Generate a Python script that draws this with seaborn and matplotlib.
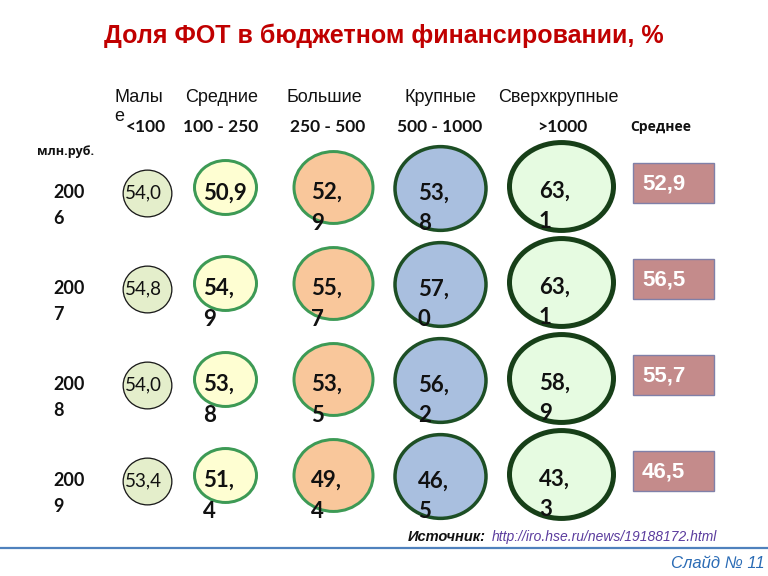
import matplotlib
matplotlib.use("Agg")
import matplotlib.pyplot as plt
from matplotlib.path import Path
from matplotlib.transforms import Affine2D
import seaborn as sns

# === данные ===
years = ["2006", "2007", "2008", "2009"]
groups = ["Малы\nе", "Средние", "Большие", "Крупные", "Сверхкрупные"]
ranges = ["<100", "100 - 250", "250 - 500", "500 - 1000", ">1000"]
small = [54.0, 54.8, 54.0, 53.4]
medium = [50.9, 54.9, 53.8, 51.4]
big = [52.9, 55.7, 53.5, 49.4]
large = [53.8, 57.0, 56.2, 46.5]
huge = [63.1, 63.1, 58.9, 43.3]
average = [52.9, 56.5, 55.7, 46.5]
columns = [small, medium, big, large, huge]

# === оформление (координаты слайда в пикселях) ===
col_x = [147, 225, 333, 440, 561]
col_dy = [6, 0, 0, 1, -1]
row_y0, row_step = 187, 96
avg_x = 673
head_x = [114, 185, 287, 404, 498]
range_x = [146, 221, 328, 440, 562]
face = ["#e4eecb", "#fefed2", "#f9c79b", "#a9bfdf", "#e6fbe1"]
edge = ["#1a1a1a", "#3d9a55", "#3d9a55", "#1d4f25", "#173f18"]
lw_px = [1.3, 3.0, 3.0, 3.5, 5.0]
width_px = [48.7, 62, 79, 91, 104]
aspect = [0.96, 0.87, 0.91, 0.92, 0.845]


def fmt(v):
    return f"{v:.1f}".replace(".", ",")


def row_y(i):
    return row_y0 + i * row_step


fig = plt.figure(figsize=(7.68, 5.76), dpi=100)
ax = fig.add_axes([0, 0, 1, 1])

# круги по группам
for j, vals in enumerate(columns):
    marker = Path.unit_circle().transformed(Affine2D().scale(1, aspect[j]))
    size_pt = width_px[j] * 0.72
    sns.scatterplot(x=[col_x[j]] * len(years),
                    y=[row_y(i) + col_dy[j] for i in range(len(years))],
                    s=size_pt ** 2, marker=marker, color=face[j],
                    edgecolor=edge[j], linewidth=lw_px[j] * 0.72,
                    legend=False, ax=ax, zorder=2)

    for i, v in enumerate(vals):
        cx, cy = col_x[j], row_y(i) + col_dy[j]
        txt = fmt(v)
        if j == 0:
            ax.text(cx - 4, cy, txt, ha="center", va="center", fontsize=13.5,
                    family=["Lato", "DejaVu Sans"], color="#111111", zorder=3)
        elif j == 1 and i == 0:
            ax.text(cx, cy + 6, txt, ha="center", va="center", fontsize=16,
                    family=["Lato", "DejaVu Sans"], fontweight="bold",
                    color="#111111", zorder=3)
        else:
            a, b = txt.split(",")
            ax.text(cx - 22, cy + 5, a + ",", ha="left", va="center",
                    fontsize=16, family=["Lato", "DejaVu Sans"],
                    fontweight="bold", color="#111111", zorder=3)
            ax.text(cx - 22, cy + 36, b, ha="left", va="center",
                    fontsize=16, family=["Lato", "DejaVu Sans"],
                    fontweight="bold", color="#111111", zorder=3)

# средние значения
box_y = [row_y(i) - 4 for i in range(len(years))]
ax.bar([avg_x] * len(average), [40] * len(average), width=81,
       bottom=[y - 20 for y in box_y], color="#c48b8b",
       edgecolor="#8080a8", linewidth=1, zorder=2)
for y, v in zip(box_y, average):
    ax.text(avg_x - 31, y + 1, fmt(v), ha="left", va="center", fontsize=16,
            family=["Liberation Sans", "DejaVu Sans"], fontweight="bold",
            color="white", zorder=3)

# годы
for i, yr in enumerate(years):
    ax.text(53, row_y(i) + 5, yr[:3], ha="left", va="center", fontsize=13,
            family=["Lato", "DejaVu Sans"], fontweight="bold", color="#111111")
    ax.text(53, row_y(i) + 31, yr[3:], ha="left", va="center", fontsize=13,
            family=["Lato", "DejaVu Sans"], fontweight="bold", color="#111111")

# заголовки столбцов
for x, g in zip(head_x, groups):
    ax.text(x, 89, g, ha="left", va="top", fontsize=13, linespacing=1.15,
            family=["Liberation Sans", "DejaVu Sans"], color="#111111")
for x, r in zip(range_x, ranges):
    ax.text(x, 127, r, ha="center", va="center", fontsize=12.5,
            family=["Lato", "DejaVu Sans"], fontweight="bold", color="#111111")
ax.text(661, 127, "Среднее", ha="center", va="center", fontsize=10,
        family=["Open Sans", "DejaVu Sans"], fontweight="bold", color="#111111")
ax.text(37, 151, "млн.руб.", ha="left", va="center", fontsize=9,
        family=["Open Sans", "DejaVu Sans"], fontweight="bold", color="#111111")

# заголовок
ax.text(384, 36, "Доля ФОТ в бюджетном финансировании, %", ha="center",
        va="center", fontsize=18, family=["Liberation Sans", "DejaVu Sans"],
        fontweight="bold", color="#c00000")

# источник и подвал
ax.text(408, 537, "Источник:", ha="left", va="center", fontsize=10.5,
        family=["Liberation Sans", "DejaVu Sans"], fontweight="bold",
        fontstyle="italic", color="#111111")
ax.text(492, 537, "http://iro.hse.ru/news/19188172.html", ha="left",
        va="center", fontsize=10, family=["Liberation Sans", "DejaVu Sans"],
        fontstyle="italic", color="#5b3c9e")
ax.plot([0, 768], [548, 548], color="#4f81bd", linewidth=1.6)
ax.text(765, 564, "Слайд № 11", ha="right", va="center", fontsize=12,
        family=["Liberation Sans", "DejaVu Sans"], fontstyle="italic",
        color="#2a6bb5")

ax.set_xlim(0, 768)
ax.set_ylim(576, 0)
ax.axis("off")

fig.savefig("out.png", dpi=100)
